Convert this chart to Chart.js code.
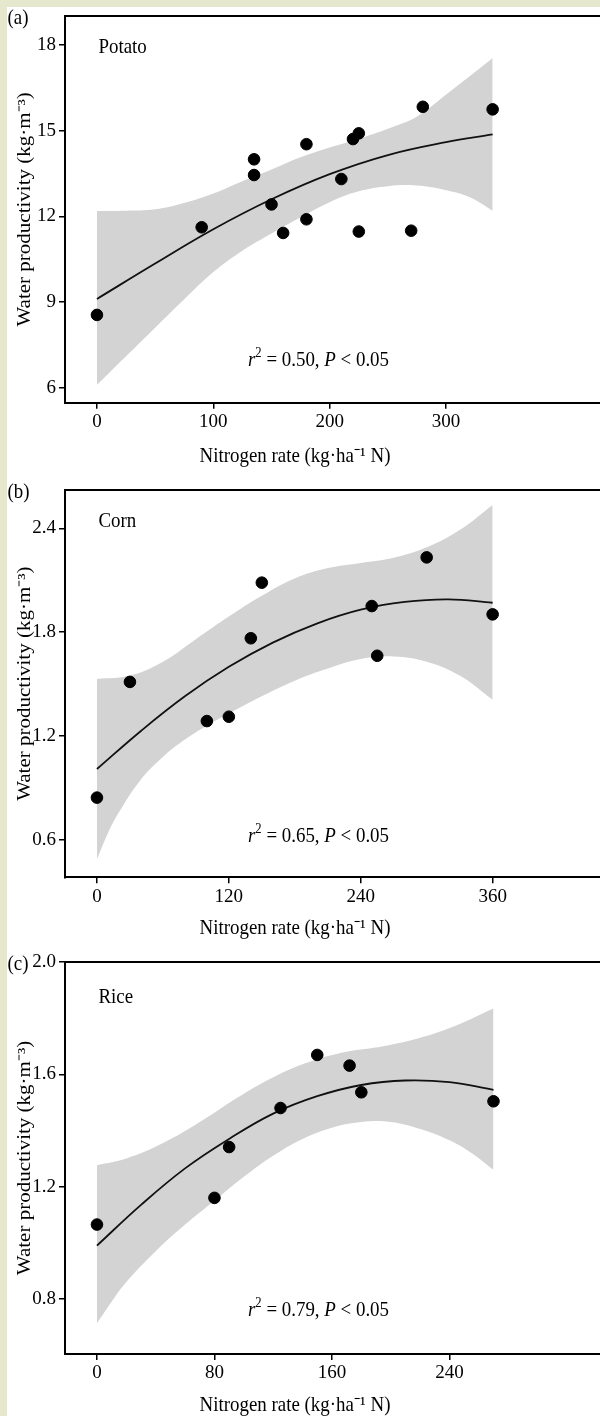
<!DOCTYPE html>
<html>
<head>
<meta charset="utf-8">
<script src="https://cdn.jsdelivr.net/npm/chart.js@4.4.0/dist/chart.umd.min.js"></script>
<style>
  html, body { margin: 0; padding: 0; }
  body { width: 600px; height: 1416px; overflow: hidden; background: #e5e8cd; position: relative; }
  #sheet { position: absolute; left: 7px; top: 7px; width: 593px; height: 1409px; background: #fff; }
  canvas { position: absolute; left: 0; }
</style>
</head>
<body>
<div id="sheet"></div>
<canvas id="chartA" width="610" height="475" style="top:0px"></canvas>
<canvas id="chartB" width="610" height="470" style="top:475px"></canvas>
<canvas id="chartC" width="610" height="480" style="top:945px"></canvas>
<script>
// ── (a) Potato ─────────────────────────────────
const potatoN   = [0, 90, 135, 135, 150, 160, 180, 180, 210, 220, 225, 225, 270, 280, 340];
const potatoWP  = [8.55, 11.62, 14.0, 13.45, 12.42, 11.42, 11.9, 14.53, 13.31, 14.71, 14.91, 11.47, 11.5, 15.84, 15.75];
const potatoFitN = [0, 50, 100, 150, 200, 250, 300, 340];
const potatoFit  = [9.11, 10.35, 11.55, 12.6, 13.48, 14.15, 14.6, 14.87];
const potatoUpN  = [0, 25, 50, 75, 100, 125, 150, 175, 200, 225, 250, 275, 300, 320, 340];
const potatoUp   = [12.19, 12.2, 12.25, 12.47, 12.8, 13.23, 13.64, 14.07, 14.41, 14.72, 15.07, 15.5, 16.27, 16.9, 17.55];
const potatoLoN  = [0, 10, 25, 50, 75, 100, 125, 150, 175, 200, 225, 250, 275, 300, 320, 340];
const potatoLo   = [6.1, 6.5, 7.1, 8.1, 9.1, 10.05, 10.8, 11.4, 11.97, 12.5, 12.88, 13.06, 13.08, 12.92, 12.68, 12.2];
const potatoXTicks = [0, 100, 200, 300];
const potatoYTicks = [6, 9, 12, 15, 18];

// ── (b) Corn ───────────────────────────────────
const cornN   = [0, 30, 100, 120, 140, 150, 250, 255, 300, 360];
const cornWP  = [0.845, 1.513, 1.287, 1.312, 1.765, 2.086, 1.951, 1.664, 2.232, 1.903];
const cornFitN = [0, 40, 80, 120, 160, 200, 240, 280, 320, 360];
const cornFit  = [1.01, 1.23, 1.43, 1.6, 1.74, 1.85, 1.93, 1.975, 1.99, 1.97];
const cornUpN  = [0, 30, 60, 90, 120, 150, 180, 210, 240, 270, 300, 330, 360];
const cornUp   = [1.53, 1.55, 1.63, 1.76, 1.89, 2.01, 2.11, 2.17, 2.2, 2.23, 2.29, 2.39, 2.535];
const cornLoN  = [0, 10, 20, 40, 60, 80, 100, 120, 150, 180, 210, 240, 270, 300, 330, 360];
const cornLo   = [0.49, 0.64, 0.76, 0.95, 1.08, 1.18, 1.26, 1.33, 1.43, 1.52, 1.59, 1.645, 1.66, 1.63, 1.55, 1.41];
const cornXTicks = [0, 120, 240, 360];
const cornYTicks = [0.6, 1.2, 1.8, 2.4];

// ── (c) Rice ───────────────────────────────────
const riceN   = [0, 80, 90, 125, 150, 172, 180, 270];
const riceWP  = [1.065, 1.16, 1.341, 1.48, 1.669, 1.631, 1.536, 1.504];
const riceFitN = [0, 30, 60, 90, 120, 150, 180, 210, 240, 270];
const riceFit  = [0.99, 1.135, 1.265, 1.37, 1.46, 1.522, 1.562, 1.578, 1.572, 1.545];
const riceUpN  = [0, 20, 45, 70, 95, 120, 145, 170, 195, 220, 245, 270];
const riceUp   = [1.276, 1.3, 1.355, 1.43, 1.515, 1.59, 1.645, 1.68, 1.7, 1.73, 1.775, 1.834];
const riceLoN  = [0, 10, 20, 40, 60, 80, 100, 120, 140, 160, 180, 200, 220, 240, 255, 270];
const riceLo   = [0.713, 0.79, 0.86, 0.97, 1.065, 1.15, 1.235, 1.31, 1.37, 1.41, 1.43, 1.43, 1.405, 1.365, 1.32, 1.26];
const riceXTicks = [0, 80, 160, 240];
const riceYTicks = [0.8, 1.2, 1.6, 2.0];

const FONT = '"Liberation Serif", "Times New Roman", serif';
const xTitle = 'Nitrogen rate (kg·ha⁻¹ N)';
const yTitle = 'Water productivity (kg·m⁻³)';
const SQUEEZE = 0.9;   // source figure is a little narrow, text included

const zip = (xs, ys) => xs.map((x, i) => ({ x: x, y: ys[i] }));

// narrow text run, returns its drawn width
function narrowText(ctx, text, x, y, font, align) {
  ctx.save();
  ctx.font = font;
  ctx.textAlign = align || 'left';
  ctx.textBaseline = 'middle';
  ctx.translate(x, y);
  ctx.scale(SQUEEZE, 1);
  ctx.fillText(text, 0, 0);
  const w = ctx.measureText(text).width * SQUEEZE;
  ctx.restore();
  return w;
}

// frame top/right, panel letter, crop name, r² note and axis titles
const panelText = {
  id: 'panelText',
  afterDraw(chart, args, o) {
    const { ctx, chartArea: a } = chart;
    ctx.save();
    ctx.strokeStyle = '#000';
    ctx.lineWidth = 2;
    ctx.beginPath();
    ctx.moveTo(a.left, a.top);
    ctx.lineTo(a.right, a.top);
    ctx.lineTo(a.right, a.bottom);
    ctx.stroke();
    ctx.fillStyle = '#000';

    const f21 = '21px ' + FONT;
    narrowText(ctx, o.letter, 7.5, a.top + 2, f21);
    narrowText(ctx, o.crop, a.left + 33.5, o.cropY, f21);
    narrowText(ctx, xTitle, 295, o.titleY, f21, 'center');

    // y title, rotated
    ctx.save();
    ctx.translate(25, (a.top + a.bottom) / 2);
    ctx.rotate(-Math.PI / 2);
    ctx.scale(1, 0.88);
    ctx.font = f21;
    ctx.textAlign = 'center';
    ctx.textBaseline = 'middle';
    ctx.fillText(yTitle, 0, 0);
    ctx.restore();

    let x = a.left + 183;
    const y = a.bottom - o.statDy;
    const segs = [
      ['italic 21px ' + FONT, 'r', 0],
      ['14px ' + FONT, '2', -7],
      [f21, ' = ' + o.r2 + ', ', 0],
      ['italic 21px ' + FONT, 'P', 0],
      [f21, ' < 0.05', 0],
    ];
    segs.forEach(([f, t, dy]) => { x += narrowText(ctx, t, x, y + dy, f); });
    ctx.restore();
  }
};

function makePanel(id, p) {
  const canvas = document.getElementById(id);
  const H = canvas.height;
  new Chart(canvas, {
    type: 'scatter',
    data: {
      datasets: [
        { type: 'scatter', data: zip(p.n, p.wp), backgroundColor: '#000', borderColor: '#000',
          pointRadius: 5.8, pointHoverRadius: 5.8, order: 0 },
        { type: 'line', data: zip(p.fitN, p.fit), borderColor: '#111', borderWidth: 1.8,
          pointRadius: 0, fill: false, tension: 0.4, order: 1 },
        { type: 'line', data: zip(p.upN, p.up), borderColor: 'rgba(0,0,0,0)', borderWidth: 0,
          pointRadius: 0, fill: false, tension: 0.4, order: 2 },
        { type: 'line', data: zip(p.loN, p.lo), borderColor: 'rgba(0,0,0,0)', borderWidth: 0,
          pointRadius: 0, fill: '-1', backgroundColor: '#d3d3d3', tension: 0.4, order: 3 },
      ],
    },
    options: {
      responsive: false,
      animation: false,
      devicePixelRatio: 1,
      layout: { padding: { top: p.top, right: 6, left: 0, bottom: 0 } },
      plugins: {
        legend: { display: false },
        tooltip: { enabled: false },
        panelText: { letter: p.letter, crop: p.crop, cropY: p.cropY, r2: p.r2,
                     statDy: p.statDy, titleY: p.titleY },
      },
      scales: {
        x: {
          type: 'linear', min: p.xMin, max: p.xMax,
          afterBuildTicks: s => { s.ticks = p.xTicks.map(v => ({ value: v })); },
          afterFit: s => { s.height = H - p.bottom; },
          ticks: { color: '#000', font: { family: FONT, size: 19 }, padding: 2, maxRotation: 0 },
          grid: { drawOnChartArea: false, drawTicks: true, tickLength: 6, color: '#000', lineWidth: 1.5 },
          border: { display: true, color: '#000', width: 2 },
          title: { display: false },
        },
        y: {
          type: 'linear', min: p.yMin, max: p.yMax,
          afterBuildTicks: s => { s.ticks = p.yTicks.map(v => ({ value: v })); },
          afterFit: s => { s.width = 65; },
          ticks: { color: '#000', font: { family: FONT, size: 19 }, padding: 3,
                   callback: v => p.yDec ? v.toFixed(p.yDec) : String(v) },
          grid: { drawOnChartArea: false, drawTicks: true, tickLength: 6, color: '#000', lineWidth: 1.5 },
          border: { display: true, color: '#000', width: 2 },
          title: { display: false },
        },
      },
    },
    plugins: [panelText],
  });
}

makePanel('chartA', {
  n: potatoN, wp: potatoWP, fitN: potatoFitN, fit: potatoFit,
  upN: potatoUpN, up: potatoUp, loN: potatoLoN, lo: potatoLo,
  xTicks: potatoXTicks, yTicks: potatoYTicks, yDec: 0,
  xMin: -27.45, xMax: 435, yMin: 5.475, yMax: 19.02,
  top: 16, bottom: 402.7, statDy: 42.7, cropY: 47.7, titleY: 456.7,
  letter: '(a)', crop: 'Potato', r2: '0.50',
});

makePanel('chartB', {
  n: cornN, wp: cornWP, fitN: cornFitN, fit: cornFit,
  upN: cornUpN, up: cornUp, loN: cornLoN, lo: cornLo,
  xTicks: cornXTicks, yTicks: cornYTicks, yDec: 1,
  xMin: -29.07, xMax: 460.6, yMin: 0.385, yMax: 2.621,
  top: 15, bottom: 402.3, statDy: 40.6, cropY: 46.7, titleY: 453.3,
  letter: '(b)', crop: 'Corn', r2: '0.65',
});

makePanel('chartC', {
  n: riceN, wp: riceWP, fitN: riceFitN, fit: riceFit,
  upN: riceUpN, up: riceUp, loN: riceLoN, lo: riceLo,
  xTicks: riceXTicks, yTicks: riceYTicks, yDec: 1,
  xMin: -21.76, xMax: 344.7, yMin: 0.604, yMax: 2.0,
  top: 17, bottom: 409, statDy: 44, cropY: 52.7, titleY: 460,
  letter: '(c)', crop: 'Rice', r2: '0.79',
});
</script>
</body>
</html>
